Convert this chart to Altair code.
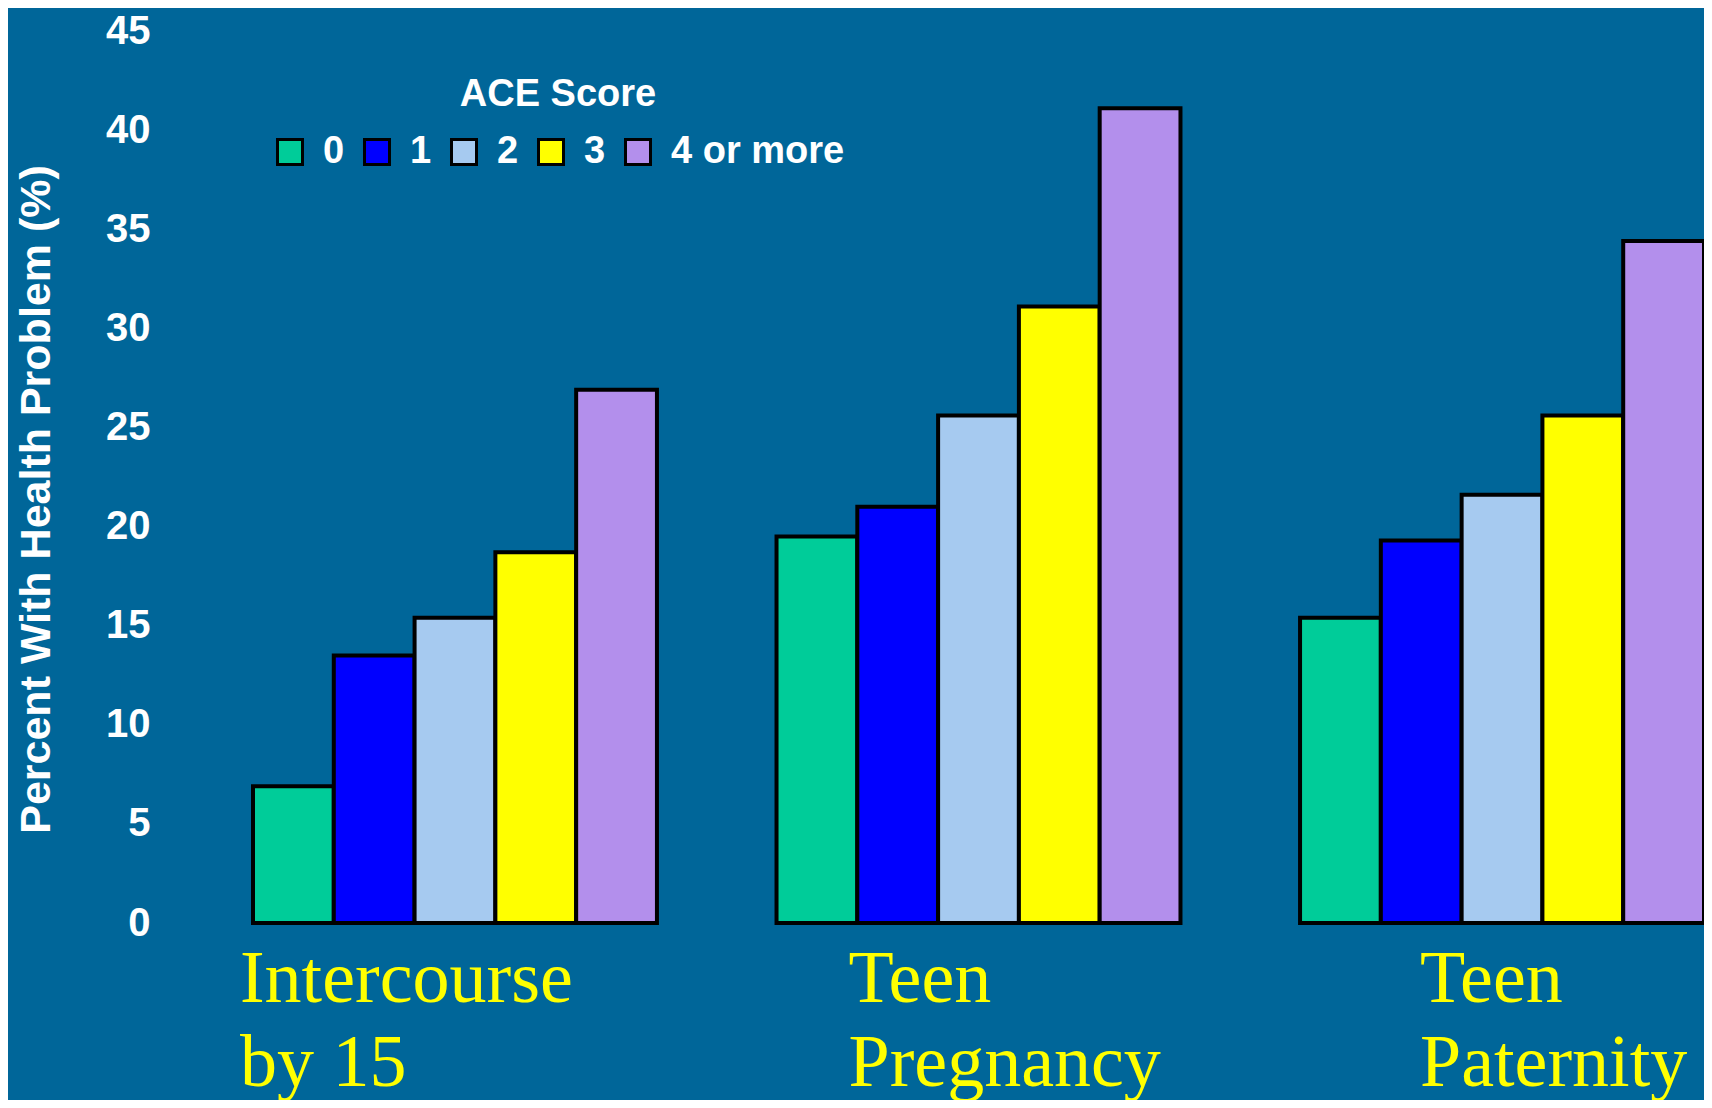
import altair as alt
import pandas as pd

categories = ["Intercourse\nby 15", "Teen\nPregnancy", "Teen\nPaternity"]
ace_scores = ["0", "1", "2", "3", "4 or more"]
intercourse_by_15 = [6.9, 13.5, 15.4, 18.7, 26.9]
teen_pregnancy = [19.5, 21.0, 25.6, 31.1, 41.1]
teen_paternity = [15.4, 19.3, 21.6, 25.6, 34.4]
bar_colors = ["#00CC99", "#0000FF", "#A6CAF0", "#FFFF00", "#B38FEC"]
y_ticks = [0, 5, 10, 15, 20, 25, 30, 35, 40, 45]

rows = []
for cat, vals in zip(categories, [intercourse_by_15, teen_pregnancy, teen_paternity]):
    for s, v in zip(ace_scores, vals):
        rows.append({"problem": cat, "ace": s, "pct": v})
df = pd.DataFrame(rows)

BG = "#006699"
SANS = "Liberation Sans"

label_offset = {
    "condition": [
        {"test": "indexof(datum.value, 'Intercourse') >= 0", "value": -215},
        {"test": "indexof(datum.value, 'Pregnancy') >= 0", "value": -130},
    ],
    "value": -82,
}

chart = (
    alt.Chart(df)
    .mark_bar(stroke="black", strokeWidth=4, strokeJoin="miter")
    .encode(
        x=alt.X(
            "problem:N",
            sort=categories,
            scale=alt.Scale(paddingInner=0.2284, paddingOuter=0),
            axis=alt.Axis(
                title=None,
                labelExpr="split(datum.label, '\\n')",
                labelFont="Liberation Serif",
                labelFontSize=74,
                labelColor="#FFFF00",
                labelAlign="left",
                labelBaseline="alphabetic",
                labelLineHeight=84,
                labelPadding=78,
                labelAngle=0,
                labelOffset=label_offset,
                labelLimit=0,
                labelOverlap=False,
                labelFlush=False,
                ticks=False,
                domain=False,
            ),
        ),
        xOffset=alt.XOffset(
            "ace:N", sort=ace_scores, scale=alt.Scale(paddingInner=0, paddingOuter=0)
        ),
        y=alt.Y(
            "pct:Q",
            scale=alt.Scale(domain=[0, 45], nice=False),
            axis=alt.Axis(
                values=y_ticks,
                title="Percent With Health Problem  (%)",
                titleColor="white",
                titleFont=SANS,
                titleFontSize=43,
                titleFontWeight="bold",
                titleAngle=270,
                titleX=-217,
                titleY=468,
                titleAlign="center",
                titleBaseline="middle",
                titleLimit=0,
                labelColor="white",
                labelFont=SANS,
                labelFontSize=40,
                labelFontWeight="bold",
                labelPadding=103,
                labelFlush=False,
                labelOverlap=False,
                ticks=False,
                domain=False,
                grid=False,
            ),
        ),
        fill=alt.Fill(
            "ace:N",
            sort=ace_scores,
            scale=alt.Scale(domain=ace_scores, range=bar_colors),
            legend=alt.Legend(
                orient="none",
                legendX=18,
                legendY=45,
                direction="horizontal",
                title="ACE Score",
                titleColor="white",
                titleFont=SANS,
                titleFontSize=38,
                titleFontWeight="bold",
                titleAnchor="middle",
                titlePadding=19,
                titleLimit=0,
                labelColor="white",
                labelFont=SANS,
                labelFontSize=38,
                labelFontWeight="bold",
                labelOffset=14,
                labelLimit=0,
                columnPadding=13,
                symbolType="square",
                symbolSize=625,
                symbolStrokeColor="black",
                symbolStrokeWidth=3,
                symbolOpacity=1,
                padding=0,
            ),
        ),
    )
    .properties(
        width=1451,
        height=892,
        autosize=alt.AutoSizeParams(type="none"),
        padding={"left": 245, "top": 23, "right": 0, "bottom": 177},
        background=BG,
    )
    .configure_view(stroke=None)
)

chart.save("out.html", embed_options={"renderer": "svg", "actions": False})
